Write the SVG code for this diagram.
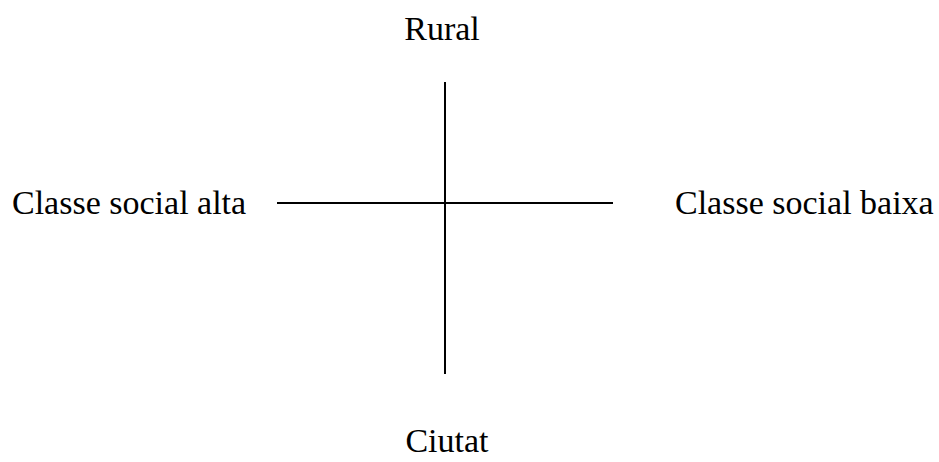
<svg xmlns="http://www.w3.org/2000/svg" width="939" height="462" viewBox="0 0 939 462">
<style>
text{font-family:"Liberation Serif","Times New Roman",serif;font-size:34px;fill:#000}
.ax{stroke:#000;stroke-width:2;fill:none}
</style>
<rect width="939" height="462" fill="#fff"/>
<g id="connectors">
<line class="ax" x1="445" y1="82" x2="445" y2="374"/>
<line class="ax" x1="277" y1="203" x2="613" y2="203"/>
</g>
<g id="rural"><text x="442" y="40" text-anchor="middle">Rural</text></g>
<g id="alta"><text x="12" y="214">Classe social alta</text></g>
<g id="baixa"><text x="675" y="214">Classe social baixa</text></g>
<g id="ciutat"><text x="447" y="452" text-anchor="middle">Ciutat</text></g>
</svg>
